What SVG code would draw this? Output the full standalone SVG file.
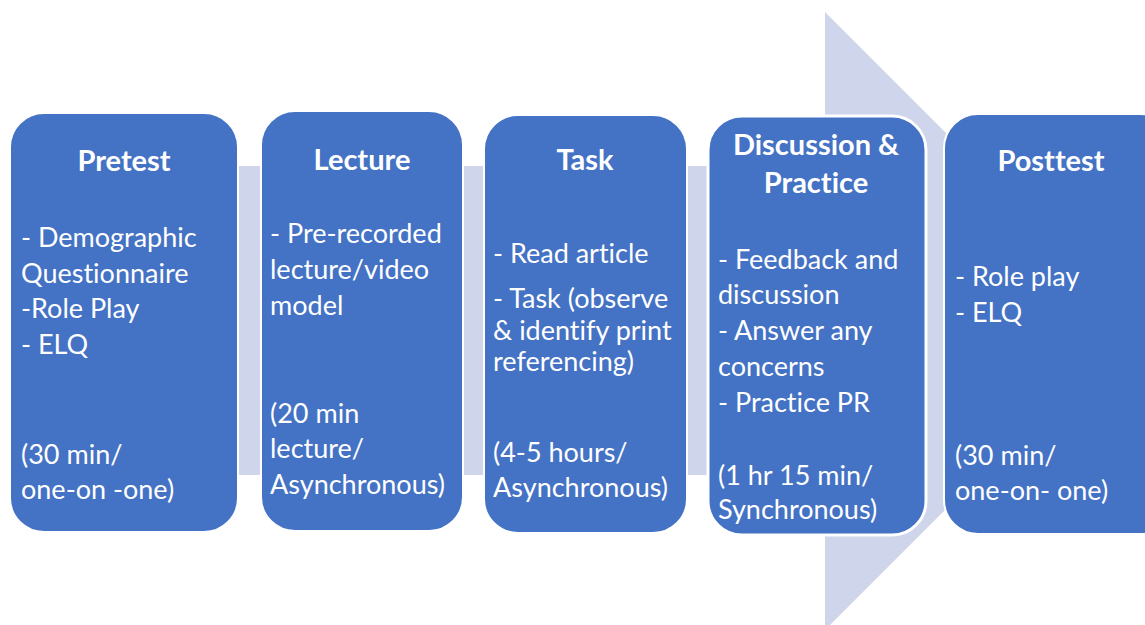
<svg xmlns="http://www.w3.org/2000/svg" width="1145" height="625" viewBox="0 0 1145 625">
  <style>
    .box { fill: #4472C4; stroke: #FFFFFF; stroke-width: 2; }
    text { font-variant-ligatures: none; }
    .title { font-family: Lato, "Liberation Sans", sans-serif; font-weight: bold; font-size: 29px; fill: #FFFFFF; text-anchor: middle; }
    .body { font-family: Lato, "Liberation Sans", sans-serif; font-size: 27px; fill: #FFFFFF; }
  </style>
  <rect width="1145" height="625" fill="#FFFFFF"/>

  <!-- background process arrow -->
  <g id="connectors">
    <polygon points="24,166 825,166 825,12 1134,321 825,630 825,475 24,475" fill="#CFD5EA"/>
  </g>

  <g id="pretest">
    <rect class="box" x="10" y="113" width="228" height="419" rx="34"/>
    <text class="title" x="124" y="171">Pretest</text>
    <text class="body" x="21" y="247">- Demographic</text>
    <text class="body" x="21" y="283">Questionnaire</text>
    <text class="body" x="21" y="318">-Role Play</text>
    <text class="body" x="21" y="354">- ELQ</text>
    <text class="body" x="21" y="464">(30 min/</text>
    <text class="body" x="21" y="499">one-on -one)</text>
  </g>

  <g id="lecture">
    <rect class="box" x="261" y="111" width="202" height="420" rx="34"/>
    <text class="title" x="362" y="170">Lecture</text>
    <text class="body" x="270" y="243">- Pre-recorded</text>
    <text class="body" x="270" y="279">lecture/video</text>
    <text class="body" x="270" y="315">model</text>
    <text class="body" x="270" y="423">(20 min</text>
    <text class="body" x="270" y="458">lecture/</text>
    <text class="body" x="270" y="494">Asynchronous)</text>
  </g>

  <g id="task">
    <rect class="box" x="484" y="115" width="203" height="418" rx="34"/>
    <text class="title" x="585" y="170">Task</text>
    <text class="body" x="493" y="263">- Read article</text>
    <text class="body" x="493" y="308">- Task (observe</text>
    <text class="body" x="493" y="340">&amp; identify print</text>
    <text class="body" x="493" y="371">referencing)</text>
    <text class="body" x="493" y="462">(4-5 hours/</text>
    <text class="body" x="493" y="497">Asynchronous)</text>
  </g>

  <g id="discussion-practice">
    <rect class="box" x="708" y="116" width="218" height="419" rx="34" style="stroke-width:3"/>
    <text class="title" x="816" y="155">Discussion &amp;</text>
    <text class="title" x="816" y="193">Practice</text>
    <text class="body" x="718" y="269">- Feedback and</text>
    <text class="body" x="718" y="304">discussion</text>
    <text class="body" x="718" y="340">- Answer any</text>
    <text class="body" x="718" y="376">concerns</text>
    <text class="body" x="718" y="412">- Practice PR</text>
    <text class="body" x="718" y="485">(1 hr 15 min/</text>
    <text class="body" x="718" y="519">Synchronous)</text>
  </g>

  <g id="posttest">
    <rect class="box" x="944" y="114" width="230" height="420" rx="34"/>
    <text class="title" x="1051" y="171">Posttest</text>
    <text class="body" x="955" y="286">- Role play</text>
    <text class="body" x="955" y="322">- ELQ</text>
    <text class="body" x="955" y="465">(30 min/</text>
    <text class="body" x="955" y="500">one-on- one)</text>
  </g>
</svg>
